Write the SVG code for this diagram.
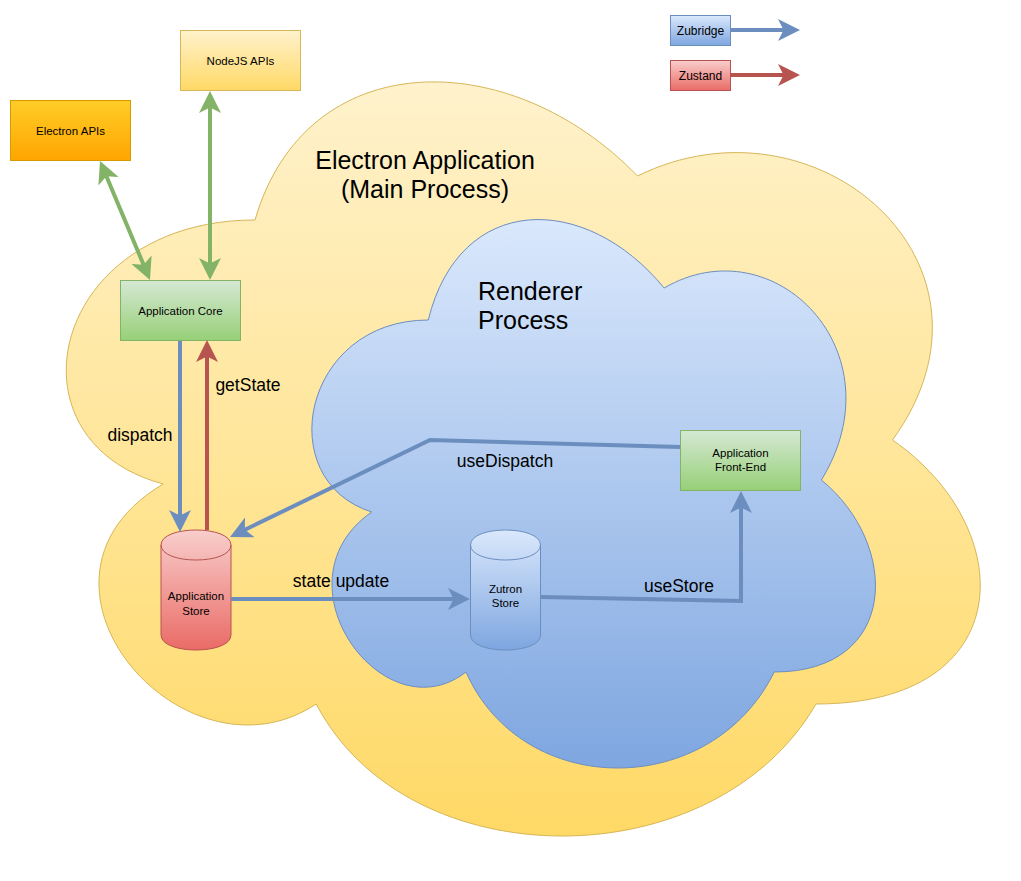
<svg xmlns="http://www.w3.org/2000/svg" width="1021" height="881" viewBox="0 0 1021 881">
<style>
text{font-family:"Liberation Sans",Arial,Helvetica,sans-serif;fill:#000}
.n{font-size:11.5px;text-anchor:middle}
.lg{font-size:12px;text-anchor:middle}
.el{font-size:17.5px;text-anchor:middle}
.t{font-size:25px}
.c{fill:none;stroke-width:4}
.b{stroke:#6c8ebf}
.r{stroke:#b85450}
.g{stroke:#82b366}
</style>
<defs>
<linearGradient id="gy" x1="0" y1="0" x2="0" y2="1"><stop offset="0" stop-color="#fff2cc"/><stop offset="1" stop-color="#ffd966"/></linearGradient>
<linearGradient id="gb" x1="0" y1="0" x2="0" y2="1"><stop offset="0" stop-color="#dae8fc"/><stop offset="1" stop-color="#7ea6e0"/></linearGradient>
<linearGradient id="gg" x1="0" y1="0" x2="0" y2="1"><stop offset="0" stop-color="#d5e8d4"/><stop offset="1" stop-color="#97d077"/></linearGradient>
<linearGradient id="gr" x1="0" y1="0" x2="0" y2="1"><stop offset="0" stop-color="#f8cecc"/><stop offset="1" stop-color="#ea6b66"/></linearGradient>
<linearGradient id="go" x1="0" y1="0" x2="0" y2="1"><stop offset="0" stop-color="#ffcd28"/><stop offset="1" stop-color="#ffa500"/></linearGradient>
<marker id="mb" viewBox="0 0 22 22" markerWidth="22" markerHeight="22" refX="12" refY="11" orient="auto-start-reverse" markerUnits="userSpaceOnUse"><path d="M0,0 L22,11 L0,22 L5.5,11 Z" fill="#6c8ebf"/></marker>
<marker id="mr" viewBox="0 0 22 22" markerWidth="22" markerHeight="22" refX="12" refY="11" orient="auto-start-reverse" markerUnits="userSpaceOnUse"><path d="M0,0 L22,11 L0,22 L5.5,11 Z" fill="#b85450"/></marker>
<marker id="mg" viewBox="0 0 22 22" markerWidth="22" markerHeight="22" refX="12" refY="11" orient="auto-start-reverse" markerUnits="userSpaceOnUse"><path d="M0,0 L22,11 L0,22 L5.5,11 Z" fill="#82b366"/></marker>
</defs>

<g id="main-process">
<path d="M255,220 C51,220 0,440 163.2,484 C0,580.8 183.6,792 316.2,704 C408,880 714,880 816,704 C1020,704 1020,528 892.5,440 C1020,264 816,88 637.5,176 C510,44 306,44 255,220 Z" fill="url(#gy)" stroke="#d6b656" stroke-width="1"/>
<text class="t" x="425" y="169" text-anchor="middle">Electron Application</text>
<text class="t" x="425" y="198" text-anchor="middle">(Main Process)</text>
</g>

<g id="renderer-process">
<path d="M428.25,320 C302.45,320 271,480 371.64,512 C271,582.4 384.22,736 465.99,672 C522.6,800 711.3,800 774.2,672 C900,672 900,544 821.375,480 C900,352 774.2,224 664.125,288 C585.5,192 459.7,192 428.25,320 Z" fill="url(#gb)" stroke="#6c8ebf" stroke-width="1"/>
<text class="t" x="478" y="300">Renderer</text>
<text class="t" x="478" y="329">Process</text>
</g>

<g id="nodejs-apis">
<rect x="180.5" y="30.5" width="120" height="60" fill="url(#gy)" stroke="#d6b656"/>
<text class="n" x="240.5" y="64.5">NodeJS APIs</text>
</g>

<g id="electron-apis">
<rect x="10.5" y="100.5" width="120" height="60" fill="url(#go)" stroke="#d79b00"/>
<text class="n" x="70.5" y="134.5">Electron APIs</text>
</g>

<g id="application-core">
<rect x="120.5" y="280.5" width="120" height="60" fill="url(#gg)" stroke="#82b366"/>
<text class="n" x="180.5" y="314.5">Application Core</text>
</g>

<g id="application-front-end">
<rect x="680.5" y="430.5" width="120" height="60" fill="url(#gg)" stroke="#82b366"/>
<text class="n" x="740.5" y="457">Application</text>
<text class="n" x="740.5" y="471">Front-End</text>
</g>

<g id="application-store">
<path d="M161,545 C161,525 231,525 231,545 L231,635 C231,655 161,655 161,635 Z" fill="url(#gr)" stroke="#b85450"/>
<path d="M161,545 C161,565 231,565 231,545" fill="none" stroke="#b85450"/>
<text class="n" x="196" y="600">Application</text>
<text class="n" x="196" y="615">Store</text>
</g>

<g id="zutron-store">
<path d="M470.5,545 C470.5,525 540.5,525 540.5,545 L540.5,635 C540.5,655 470.5,655 470.5,635 Z" fill="url(#gb)" stroke="#6c8ebf"/>
<path d="M470.5,545 C470.5,565 540.5,565 540.5,545" fill="none" stroke="#6c8ebf"/>
<text class="n" x="505.5" y="593">Zutron</text>
<text class="n" x="505.5" y="607">Store</text>
</g>

<g id="legend-zubridge">
<rect x="670.5" y="15.5" width="60" height="30" fill="url(#gb)" stroke="#6c8ebf"/>
<text class="lg" x="700.5" y="34.5">Zubridge</text>
</g>

<g id="legend-zustand">
<rect x="670.5" y="60.5" width="60" height="30" fill="url(#gr)" stroke="#b85450"/>
<text class="lg" x="700.5" y="79.5">Zustand</text>
</g>

<g id="connectors">
<path class="c g" d="M103.9,170.2 L146.1,270.8" marker-start="url(#mg)" marker-end="url(#mg)"/>
<path class="c g" d="M210,101 L210,270" marker-start="url(#mg)" marker-end="url(#mg)"/>
<path class="c b" d="M180,341 L180,522" marker-end="url(#mb)"/>
<path class="c r" d="M207,530 L207,350" marker-end="url(#mr)"/>
<path class="c b" d="M231,599 L460,599" marker-end="url(#mb)"/>
<path class="c b" d="M680,447 L430,440 L239,532.6" marker-end="url(#mb)"/>
<path class="c b" d="M541,597 L741,601 L741,501" marker-end="url(#mb)"/>
<path class="c b" d="M731,30 L790,30" marker-end="url(#mb)"/>
<path class="c r" d="M731,75 L790,75" marker-end="url(#mr)"/>
<text class="el" x="140" y="441">dispatch</text>
<text class="el" x="248" y="391">getState</text>
<text class="el" x="341" y="587">state update</text>
<text class="el" x="505" y="467">useDispatch</text>
<text class="el" x="679" y="592">useStore</text>
</g>
</svg>
